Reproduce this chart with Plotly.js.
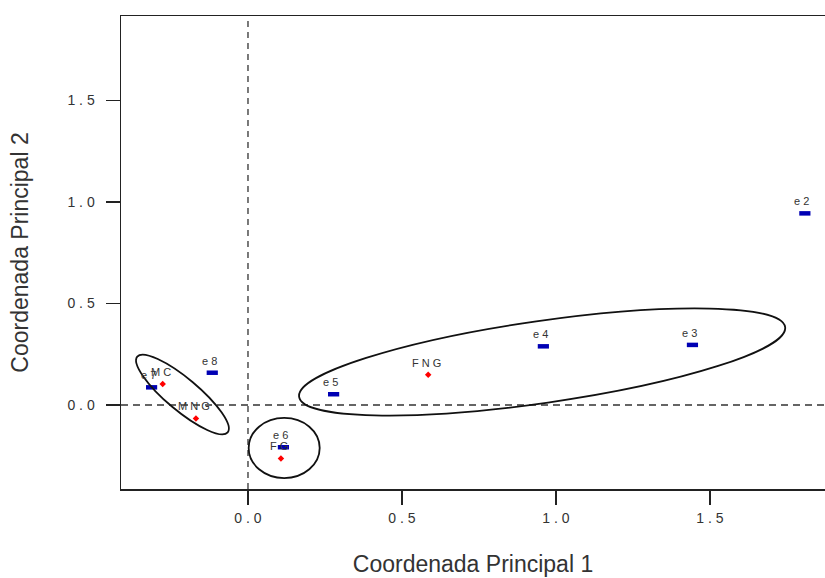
<!DOCTYPE html>
<html>
<head>
<meta charset="utf-8">
<script src="https://cdn.plot.ly/plotly-3.0.1.min.js"></script>
<style>
  html, body { margin: 0; padding: 0; background: #ffffff; }
  #chart { width: 825px; height: 578px; }
</style>
</head>
<body>
<div id="chart"></div>
<script>
// ---- data ----
const eLabels = ["e 2", "e 3", "e 4", "e 5", "e 6", "e 7", "e 8"];
const eX = [1.808, 1.443, 0.959, 0.278, 0.115, -0.313, -0.116];
const eY = [0.944, 0.296, 0.289, 0.053, -0.208, 0.087, 0.159];

const gLabels = ["M C", "M N G", "F N G", "F G"];
const gX = [-0.277, -0.169, 0.585, 0.107];
const gY = [0.103, -0.066, 0.149, -0.263];

// ellipses: centre and two conjugate half-axis vectors (data units)
const ellCx = [0.955, -0.2127, 0.1175];
const ellCy = [0.212, 0.0517, -0.2118];
const ellUx = [0.789, 0.1468, 0.1153];
const ellUy = [0.172, -0.1867, 0.0];
const ellVx = [0.019, -0.0334, 0.0];
const ellVy = [-0.200, -0.0606, 0.148];

const tickVals = [0, 0.5, 1, 1.5];
const tickText = ["0 . 0", "0 . 5", "1 . 0", "1 . 5"];

// ---- build ----
function ellipsePath(cx, cy, ux, uy, vx, vy) {
  const k = 0.5522847;
  const P = (a, b) => [cx + a * ux + b * vx, cy + a * uy + b * vy];
  const f = p => p[0].toFixed(5) + "," + p[1].toFixed(5);
  const seg = [
    [P(1, k), P(k, 1), P(0, 1)],
    [P(-k, 1), P(-1, k), P(-1, 0)],
    [P(-1, -k), P(-k, -1), P(0, -1)],
    [P(k, -1), P(1, -k), P(1, 0)]
  ];
  let d = "M" + f(P(1, 0));
  seg.forEach(s => { d += " C" + f(s[0]) + " " + f(s[1]) + " " + f(s[2]); });
  return d + " Z";
}

const shapes = [
  {type: "line", xref: "x", yref: "paper", x0: 0, x1: 0, y0: 0, y1: 1,
   line: {color: "#333333", width: 1.3, dash: "6px,5px"}},
  {type: "line", xref: "paper", yref: "y", x0: 0, x1: 1, y0: 0, y1: 0,
   line: {color: "#333333", width: 1.3, dash: "7px,5px"}}
];
for (let i = 0; i < ellCx.length; i++) {
  shapes.push({type: "path", xref: "x", yref: "y",
    path: ellipsePath(ellCx[i], ellCy[i], ellUx[i], ellUy[i], ellVx[i], ellVy[i]),
    line: {color: "#111111", width: 1.8}});
}

const lblFont = {family: "Liberation Sans, Arial, sans-serif", size: 11, color: "#333333"};
const annotations = [];
eLabels.forEach((t, i) => annotations.push({x: eX[i], y: eY[i], text: t, showarrow: false,
  xshift: -3, yshift: 12, font: lblFont}));
gLabels.forEach((t, i) => annotations.push({x: gX[i], y: gY[i], text: t, showarrow: false,
  xshift: -2, yshift: 12, font: lblFont}));

const traces = [
  {type: "scatter", mode: "markers", x: eX, y: eY, hoverinfo: "skip",
   marker: {symbol: "line-ew", size: 8, color: "#0000b4", line: {color: "#0000b4", width: 4.5}}},
  {type: "scatter", mode: "markers", x: gX, y: gY, hoverinfo: "skip",
   marker: {symbol: "diamond", size: 5, color: "#ff0000", line: {width: 0}}}
];

const axFont = {family: "Liberation Sans, Arial, sans-serif", size: 14, color: "#333333"};
const titleFont = {family: "Liberation Sans, Arial, sans-serif", size: 23, color: "#333333"};

const layout = {
  width: 825, height: 578,
  margin: {l: 121, r: 0, t: 16, b: 89, pad: 0},
  paper_bgcolor: "#ffffff", plot_bgcolor: "#ffffff",
  showlegend: false,
  xaxis: {
    range: [-0.4123, 1.8734], showgrid: false, zeroline: false,
    showline: true, mirror: true, linecolor: "#222222", linewidth: 1.5,
    ticks: "outside", ticklen: 14, tickwidth: 1.3, tickcolor: "#222222",
    tickvals: tickVals, ticktext: tickText, tickfont: axFont, ticklabelstandoff: 2,
    title: {text: "Coordenada Principal 1", font: titleFont, standoff: 30},
    automargin: false
  },
  yaxis: {
    range: [-0.4138, 1.9163], showgrid: false, zeroline: false,
    showline: true, mirror: false, linecolor: "#222222", linewidth: 1.5,
    ticks: "outside", ticklen: 14, tickwidth: 1.3, tickcolor: "#222222",
    tickvals: tickVals, ticktext: tickText, tickfont: axFont, ticklabelstandoff: 8,
    title: {text: "Coordenada Principal 2", font: titleFont, standoff: 32},
    automargin: false
  },
  shapes: shapes,
  annotations: annotations
};

Plotly.newPlot("chart", traces, layout, {displayModeBar: false, staticPlot: true});
</script>
</body>
</html>
